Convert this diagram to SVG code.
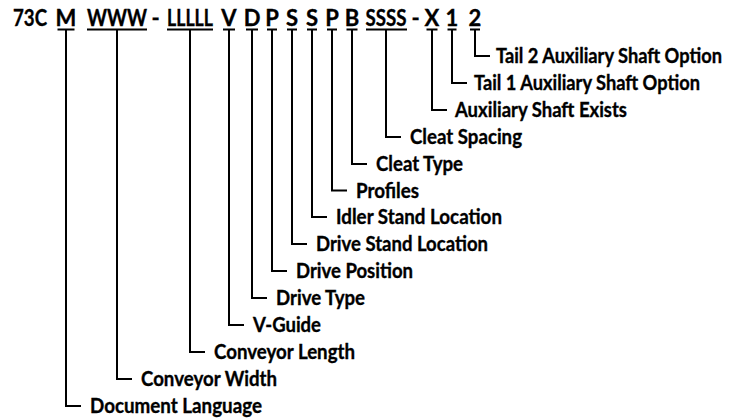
<svg xmlns="http://www.w3.org/2000/svg" width="737" height="419" viewBox="0 0 737 419">
<style>
text{font-family:Lato,"Liberation Sans",sans-serif;font-weight:bold;fill:#000;stroke:#000;stroke-width:0.35}
.code{font-size:22px;text-anchor:middle}
.lbl{font-size:20px}
.ul{stroke:#000;stroke-width:2}
.conn path{fill:none;stroke:#000;stroke-width:2;stroke-linejoin:miter}
</style>
<rect width="737" height="419" fill="#fff"/>
<g id="prefix"><text x="13" y="26" font-size="22" textLength="34" lengthAdjust="spacingAndGlyphs">73C</text></g>
<g id="dash1"><text class="code" x="155.5" y="26">-</text></g>
<g id="dash2"><text class="code" x="415.5" y="26">-</text></g>
<g class="conn" id="connectors">
<path d="M475 29.5V56H490"/>
<path d="M452 29.5V83H467"/>
<path d="M432 29.5V110H447"/>
<path d="M386 29.5V137H401"/>
<path d="M352 29.5V164H367"/>
<path d="M332 29.5V190.5H347"/>
<path d="M312 29.5V217H327"/>
<path d="M292 29.5V244H307"/>
<path d="M272 29.5V271H287"/>
<path d="M252 29.5V298H267"/>
<path d="M229 29.5V325H244"/>
<path d="M190 29.5V352H205"/>
<path d="M117 29.5V379H132"/>
<path d="M66 29.5V406H81"/>
</g>
<g id="f-lang"><text class="code" x="66" y="26">M</text><line class="ul" x1="57.5" y1="29.5" x2="74.5" y2="29.5"/><text class="lbl" x="90" y="413" textLength="172" lengthAdjust="spacingAndGlyphs">Document Language</text></g>
<g id="f-width"><text class="code" x="117" y="26" textLength="60" lengthAdjust="spacingAndGlyphs">WWW</text><line class="ul" x1="87" y1="29.5" x2="147" y2="29.5"/><text class="lbl" x="141" y="386" textLength="136" lengthAdjust="spacingAndGlyphs">Conveyor Width</text></g>
<g id="f-length"><text class="code" x="190" y="26" textLength="46" lengthAdjust="spacingAndGlyphs">LLLLL</text><line class="ul" x1="167" y1="29.5" x2="213" y2="29.5"/><text class="lbl" x="214" y="359" textLength="141" lengthAdjust="spacingAndGlyphs">Conveyor Length</text></g>
<g id="f-vguide"><text class="code" x="229" y="26">V</text><line class="ul" x1="223" y1="29.5" x2="235" y2="29.5"/><text class="lbl" x="253" y="332" textLength="68" lengthAdjust="spacingAndGlyphs">V-Guide</text></g>
<g id="f-drivetype"><text class="code" x="252" y="26">D</text><line class="ul" x1="246" y1="29.5" x2="258" y2="29.5"/><text class="lbl" x="276" y="305" textLength="89" lengthAdjust="spacingAndGlyphs">Drive Type</text></g>
<g id="f-drivepos"><text class="code" x="272" y="26">P</text><line class="ul" x1="267" y1="29.5" x2="277" y2="29.5"/><text class="lbl" x="296" y="278" textLength="117" lengthAdjust="spacingAndGlyphs">Drive Position</text></g>
<g id="f-drivestand"><text class="code" x="292" y="26">S</text><line class="ul" x1="287" y1="29.5" x2="297" y2="29.5"/><text class="lbl" x="316" y="251" textLength="172" lengthAdjust="spacingAndGlyphs">Drive Stand Location</text></g>
<g id="f-idler"><text class="code" x="312" y="26">S</text><line class="ul" x1="307" y1="29.5" x2="317" y2="29.5"/><text class="lbl" x="336" y="224" textLength="166" lengthAdjust="spacingAndGlyphs">Idler Stand Location</text></g>
<g id="f-profiles"><text class="code" x="332" y="26">P</text><line class="ul" x1="327" y1="29.5" x2="337" y2="29.5"/><text class="lbl" x="356" y="197.5" textLength="63" lengthAdjust="spacingAndGlyphs">Profiles</text></g>
<g id="f-cleattype"><text class="code" x="352" y="26">B</text><line class="ul" x1="346.5" y1="29.5" x2="357.5" y2="29.5"/><text class="lbl" x="376" y="171" textLength="87" lengthAdjust="spacingAndGlyphs">Cleat Type</text></g>
<g id="f-cleatspacing"><text class="code" x="386" y="26" textLength="41" lengthAdjust="spacingAndGlyphs">SSSS</text><line class="ul" x1="366" y1="29.5" x2="407" y2="29.5"/><text class="lbl" x="410" y="144" textLength="112" lengthAdjust="spacingAndGlyphs">Cleat Spacing</text></g>
<g id="f-aux"><text class="code" x="432" y="26">X</text><line class="ul" x1="426.5" y1="29.5" x2="437.5" y2="29.5"/><text class="lbl" x="455" y="117" textLength="172" lengthAdjust="spacingAndGlyphs">Auxiliary Shaft Exists</text></g>
<g id="f-tail1"><text class="code" x="452" y="26">1</text><line class="ul" x1="447.5" y1="29.5" x2="456.5" y2="29.5"/><text class="lbl" x="474" y="90" textLength="226" lengthAdjust="spacingAndGlyphs">Tail 1 Auxiliary Shaft Option</text></g>
<g id="f-tail2"><text class="code" x="475" y="26">2</text><line class="ul" x1="470" y1="29.5" x2="480" y2="29.5"/><text class="lbl" x="496" y="63" textLength="226" lengthAdjust="spacingAndGlyphs">Tail 2 Auxiliary Shaft Option</text></g>
</svg>
